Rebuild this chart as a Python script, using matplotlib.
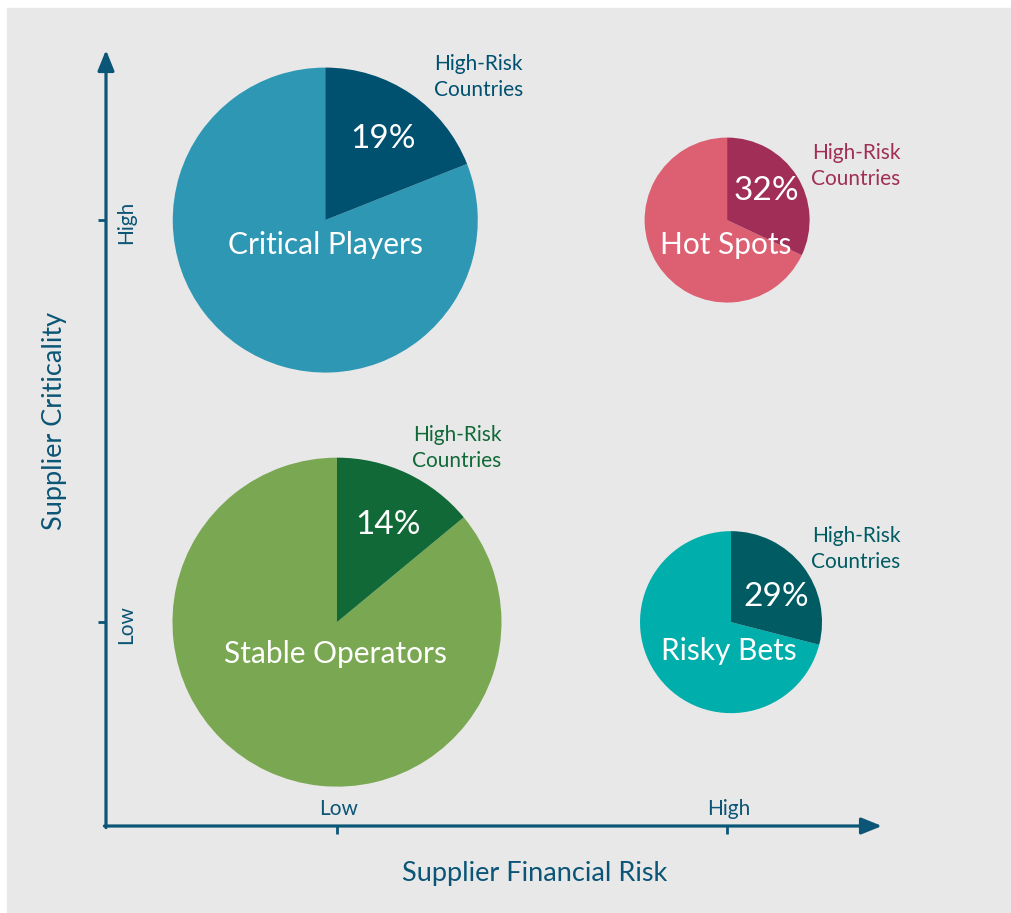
import matplotlib
matplotlib.use("Agg")
import matplotlib.pyplot as plt
from matplotlib.patches import Wedge, Rectangle
from matplotlib.transforms import ScaledTranslation

plt.rcParams['font.family'] = ['Lato', 'DejaVu Sans']

# segments: name, share of suppliers in high-risk countries, position on the grid
segments = ['Critical Players', 'Hot Spots', 'Stable Operators', 'Risky Bets']
high_risk_pct = [19, 32, 14, 29]
financial_risk = [-0.03, 1.0, 0.0, 1.01]   # 0 = Low, 1 = High
criticality = [1.0, 1.0, 0.0, 0.0]         # 0 = Low, 1 = High
tick_labels = ['Low', 'High']

# styling
radius_in = [1.525, 0.825, 1.645, 0.91]
light = ['#2e97b4', '#dc5f72', '#7aa752', '#00aeac']
dark = ['#005070', '#a02e56', '#106937', '#005b62']
name_off = [(0, -34), (-1, -34), (-2, -41), (-2, -38)]
pct_off = [(58, 72), (39, 20), (51, 88), (45, 16)]
hrc_off = [(153, 143), (129, 54), (120, 174), (125, 73)]
axis_col = '#0b5576'

fig = plt.figure(figsize=(10.12, 9.13), dpi=100)
fig.patch.set_facecolor('white')
fig.add_artist(Rectangle((7 / 1012, 0), 1 - 7 / 1012, 1 - 8 / 913,
                         transform=fig.transFigure, color='#e8e8e8', zorder=-10))

ax = fig.add_axes([106 / 1012, 87 / 913, 776 / 1012, 776 / 913])
ax.set_facecolor('none')
ax.set_xlim(-0.592, 1.397)
ax.set_ylim(-0.507, 1.423)
for s in ax.spines.values():
    s.set_visible(False)

# axis arrows
arrow = dict(arrowstyle='-|>,head_length=0.62,head_width=0.25', color=axis_col,
             lw=2.3, mutation_scale=20, shrinkA=0, shrinkB=0)
ax.annotate('', xy=(1, 0), xytext=(-0.002, 0), xycoords='axes fraction', arrowprops=arrow)
ax.annotate('', xy=(0, 1), xytext=(0, -0.002), xycoords='axes fraction', arrowprops=arrow)

ax.set_xticks([0, 1])
ax.set_yticks([0, 1])
ax.tick_params(direction='out', length=6, width=2, color=axis_col,
               labelbottom=False, labelleft=False)

for v, lab in zip([0, 1], tick_labels):
    ax.annotate(lab, xy=(v, 0), xycoords=('data', 'axes fraction'),
                xytext=(2, 11), textcoords='offset pixels', ha='center', va='baseline',
                fontsize=15, color=axis_col)
    ax.annotate(lab, xy=(0, v), xycoords=('axes fraction', 'data'),
                xytext=(10, -2), textcoords='offset pixels', ha='left', va='center',
                rotation=90, fontsize=15, color=axis_col)

fig.text(535 / 1012, 1 - 873 / 913, 'Supplier Financial Risk', ha='center', va='center',
         fontsize=19.5, color=axis_col)
fig.text(55 / 1012, 1 - 421 / 913, 'Supplier Criticality', ha='center', va='center',
         rotation=90, fontsize=19.5, color=axis_col)

for i, name in enumerate(segments):
    x, y, p = financial_risk[i], criticality[i], high_risk_pct[i]
    tr = fig.dpi_scale_trans + ScaledTranslation(x, y, ax.transData)
    split = 90 - 360 * p / 100
    ax.add_patch(Wedge((0, 0), radius_in[i], 90, split + 360, transform=tr,
                       color=light[i], lw=0, clip_on=False))
    ax.add_patch(Wedge((0, 0), radius_in[i], split, 90, transform=tr,
                       color=dark[i], lw=0, clip_on=False))
    ax.annotate(name, xy=(x, y), xytext=name_off[i], textcoords='offset pixels',
                ha='center', va='baseline', fontsize=21.5, color='white')
    ax.annotate(f'{p}%', xy=(x, y), xytext=pct_off[i], textcoords='offset pixels',
                ha='center', va='baseline', fontsize=24, color='white')
    ax.annotate('High-Risk\nCountries', xy=(x, y), xytext=hrc_off[i],
                textcoords='offset pixels', ha='center', va='center',
                fontsize=15, color=dark[i], linespacing=1.4)

fig.savefig('out.png', dpi=100)
